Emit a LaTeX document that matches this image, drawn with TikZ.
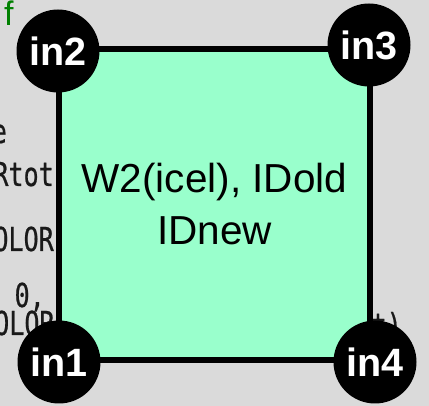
\documentclass[tikz,border=0pt]{standalone}
\usepackage{fontspec}
\setmainfont{Liberation Sans}
\newfontfamily\codefont[FakeStretch=0.76,FakeBold=0.6]{DejaVu Sans Mono}
\definecolor{bg}{RGB}{218,218,218}
\definecolor{mint}{RGB}{153,255,204}
\definecolor{codegreen}{RGB}{0,128,0}
\definecolor{codegray}{RGB}{25,25,25}
\tikzset{
  codetext/.style={inner sep=0pt, font=\codefont\fontsize{33}{33}\selectfont, text=codegray},
  cellbox/.style={draw=black, fill=mint, line width=6pt, minimum width=311pt, minimum height=311pt, inner sep=0pt, align=center, font=\fontsize{40.5}{52}\selectfont},
  corner/.style={circle, fill=black, minimum size=83pt, inner sep=0pt, text=white, font=\bfseries\fontsize{39.5}{39.5}\selectfont}
}
\begin{document}
\begin{tikzpicture}[x=1pt,y=-1pt]
\fill[bg] (0,0) rectangle (429,406);
\useasboundingbox (0,0) rectangle (429,406);
\begin{scope}
\clip (0,0) rectangle (429,406);
\node[codetext, anchor=base east] (c1) at (7,143) {e};
\node[codetext, anchor=base east] (c2) at (54,186) {Rtot};
\node[codetext, anchor=base east] (c3) at (54,251) {OLOR};
\node[codetext, anchor=base east] (c4) at (45,307) {= 0,};
\node[codetext, anchor=base west] (c5) at (-6,335) {OLOR';};
\node[codetext, anchor=base east] (c6) at (402,337) {t)};
\node[inner sep=0pt, text=codegreen, anchor=base west, font=\fontsize{34}{34}\selectfont] (c7) at (4,26) {f};
\node[cellbox] (cell) at (214.5,204.5) {W2(icel), IDold\\IDnew};
\node[corner] (in2) at (58,51) {in2};
\node[corner] (in3) at (369,45) {in3};
\node[corner] (in1) at (59,362) {in1};
\node[corner] (in4) at (375,362) {in4};
\end{scope}
\end{tikzpicture}
\end{document}
